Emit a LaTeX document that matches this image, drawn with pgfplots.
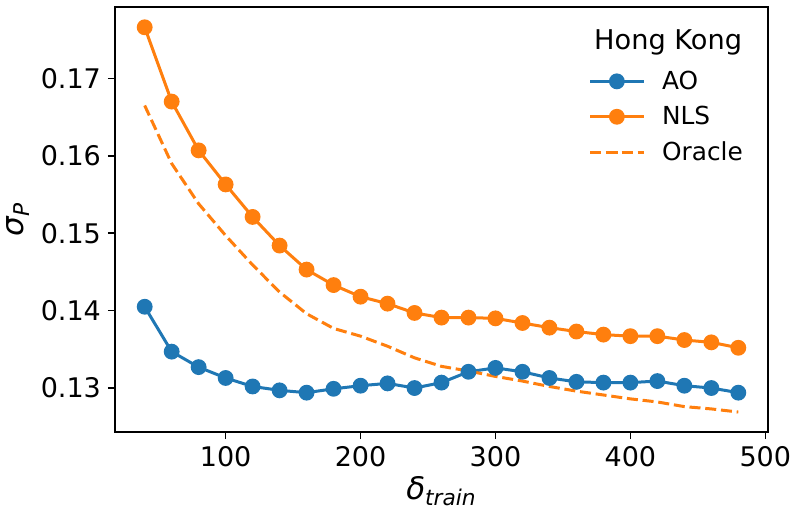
\documentclass[border=0pt]{standalone}
\usepackage{fontspec}
\setmainfont{DejaVu Sans}
\usepackage{pgfplots}
\pgfplotsset{compat=1.18}
\definecolor{mplblue}{HTML}{1F77B4}
\definecolor{mplorange}{HTML}{FF7F0E}

\pgfplotstableread{
x    ao     nls    oracle
40   0.1405 0.1766 0.1665
60   0.1347 0.1670 0.1590
80   0.1327 0.1607 0.1538
100  0.1313 0.1563 0.1497
120  0.1302 0.1521 0.1459
140  0.1297 0.1484 0.1424
160  0.1294 0.1453 0.1396
180  0.1299 0.1433 0.1377
200  0.1303 0.1418 0.1367
220  0.1306 0.1409 0.1354
240  0.1300 0.1397 0.1339
260  0.1307 0.1391 0.1328
280  0.1321 0.1391 0.1322
300  0.1326 0.1390 0.1315
320  0.1321 0.1384 0.1309
340  0.1313 0.1378 0.1302
360  0.1308 0.1373 0.1296
380  0.1307 0.1369 0.1291
400  0.1307 0.1367 0.1286
420  0.1309 0.1367 0.1282
440  0.1303 0.1362 0.1276
460  0.1300 0.1359 0.1273
480  0.1294 0.1352 0.1269
}\datatable

\begin{document}
\begin{tikzpicture}
\begin{axis}[
  name=ax,
  scale only axis,
  width=326.5pt, height=212.5pt,
  xmin=18, xmax=502,
  ymin=0.12432, ymax=0.17922,
  xtick={100,200,300,400,500},
  ytick={0.13,0.14,0.15,0.16,0.17},
  yticklabel style={/pgf/number format/fixed, /pgf/number format/fixed zerofill, /pgf/number format/precision=2},
  /pgf/number format/assume math mode=true,
  scaled y ticks=false,
  tick pos=left,
  tick align=outside,
  major tick length=3.5pt,
  tick style={line width=0.8pt, black},
  axis line style={line width=0.8pt},
  tick label style={font=\fontsize{13.5}{16}\selectfont},
  xlabel={\textit{δ}\textsubscript{\textit{train}}},
  ylabel={\textit{σ}\textsubscript{\textit{P}}},
  label style={font=\fontsize{15.5}{18}\selectfont},
  xlabel style={at={(axis description cs:0.5,0)}, anchor=base, yshift=-33.5pt},
  ylabel style={at={(axis description cs:-0.1485,0.5)}, anchor=center},
  legend style={at={(axis description cs:0.7155,0.87)}, anchor=north west,
    draw=none, fill=none, font=\fontsize{12.4}{15}\selectfont, row sep=3pt,
    /tikz/every odd column/.append style={column sep=6.5pt}},
  legend cell align=left,
  legend image code/.code={\draw[mark repeat=2,mark phase=2] plot coordinates {(0cm,0cm) (0.47cm,0cm) (0.94cm,0cm)};},
]
\addplot[mplblue, line width=1.5pt, mark=*, mark size=3.2pt] table[x=x,y=ao] {\datatable};
\addlegendentry{AO}
\addplot[mplorange, line width=1.5pt, mark=*, mark size=3.2pt] table[x=x,y=nls] {\datatable};
\addlegendentry{NLS}
\addplot[mplorange, line width=1.5pt, dash pattern=on 5.5pt off 2.4pt] table[x=x,y=oracle] {\datatable};
\addlegendentry{Oracle}
\node[font=\fontsize{13.6}{16}\selectfont] at (axis description cs:0.847,0.917) {Hong Kong};
\end{axis}
\path (ax.south west) ++(-57.5pt,-38.5pt) coordinate (p1);
\path (ax.north east) ++(12.5pt,3.5pt) coordinate (p2);
\pgfresetboundingbox
\path (p1) rectangle (p2);
\end{tikzpicture}
\end{document}
